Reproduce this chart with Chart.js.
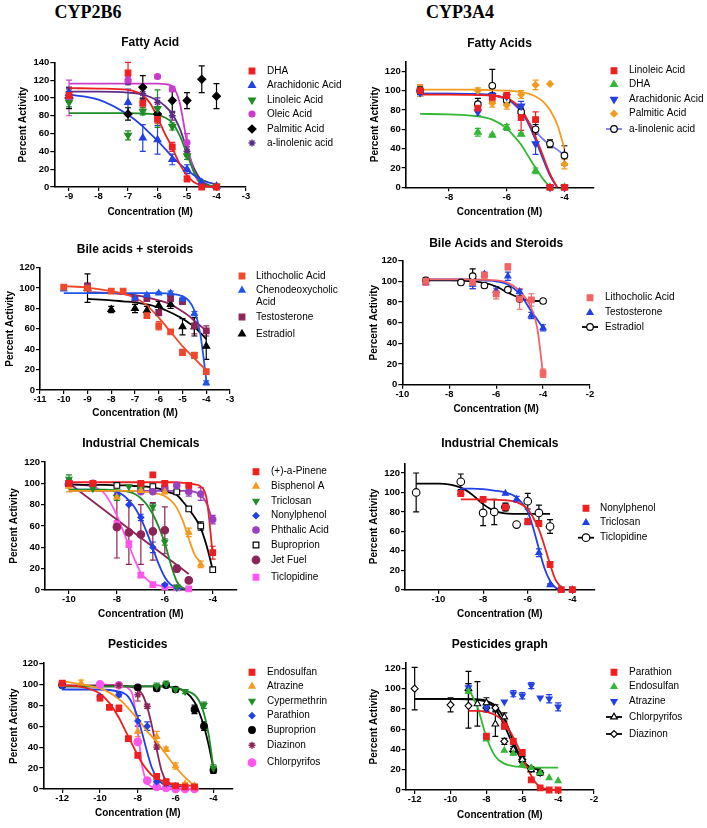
<!DOCTYPE html>
<html>
<head>
<meta charset="utf-8">
<script src="https://cdn.jsdelivr.net/npm/chart.js@4.4.1/dist/chart.umd.min.js"></script>
<style>
  html, body { margin: 0; padding: 0; background: #fff; }
  #wrap { position: relative; width: 707px; height: 828px; overflow: hidden; }
  .head { position: absolute; top: 2px; width: 200px; text-align: center; line-height: 20px;
          font: bold 18px 'Liberation Serif', 'Times New Roman', serif; color: #000; }
  canvas { position: absolute; }
</style>
</head>
<body>
<div id="wrap">
  <div class="head" style="left:-12px">CYP2B6</div>
  <div class="head" style="left:360px">CYP3A4</div>
</div>
<script>
/* ---------- CYP2B6 : fatty acids ---------- */
const b6FatConc = [-9, -7, -6.5, -6, -5.5, -5, -4.5, -4];
const b6FatFitX = [-9, -8, -7, -6.5, -6.25, -6, -5.75, -5.5, -5.25, -5, -4.75, -4.5, -4.25, -4];
const b6FatDHA = [103, 128, 94, 76, 45, 9, 0, 0];
const b6FatDHAErr = [8, 12, 5, 5, 5, 3, 1, 1];
const b6FatDHAFit = [111, 110.5, 109, 103, 94, 78, 60, 44, 26, 13, 5, 2, 0.5, 0];
const b6FatAra = [105, 95, 55, 53, 31, 20, 5, 1];
const b6FatAraErr = [6, 15, 15, 16, 6, 5, 2, 1];
const b6FatAraFit = [104, 98, 81, 68, 60, 52, 43, 34, 26, 19, 13, 8, 5, 3];
const b6FatLin = [95, 58, 85, 88, 68, 35, 5, 1];
const b6FatLinErr = [5, 5, 4, 21, 4, 4, 2, 1];
const b6FatLinFit = [83, 83, 83, 82.5, 82, 81, 78, 72, 58, 37, 16, 5, 1.5, 0];
const b6FatOle = [100, 120, null, 124, 110, 50, 3, 0];
const b6FatOleErr = [20, 4, 0, 2, 3, 10, 2, 1];
const b6FatOleFit = [116, 116, 116, 116, 116, 116, 115.5, 113, 95, 50, 15, 3, 1, 0];
const b6FatPal = [100, 82, 112, 82, 97, 97, 121, 102];
const b6FatPalErr = [12, 7, 13, 7, 13, 9, 15, 14];
const b6FatALin = [107, 118, 105, 95, 80, 40, 3, 0];
const b6FatALinErr = [5, 3, 5, 5, 5, 5, 1, 1];
const b6FatALinFit = [107, 107, 106, 104, 101, 97, 91, 82, 66, 42, 20, 7, 2, 0.5];

/* ---------- CYP3A4 : fatty acids ---------- */
const a4FatConc = [-9, -7, -6.5, -6, -5.5, -5, -4.5, -4];
const a4FatFitX = [-9, -8, -7, -6.5, -6, -5.75, -5.5, -5.25, -5, -4.75, -4.5, -4.25, -4];
const a4FatLin = [100, 82, 93, 95, 72, 70, 0, 0];
const a4FatLinErr = [6, 4, 4, 3, 13, 8, 1, 1];
const a4FatLinFit = [96, 96, 95.5, 95, 92, 88, 81, 68, 52, 33, 14, 0, null];
const a4FatDHA = [null, 57, 54, 62, 55, 17, 0, 0];
const a4FatDHAErr = [0, 4, 1, 3, 1, 3, 1, 1];
const a4FatDHAFit = [76, 75.5, 73.5, 70, 61, 53, 44, 32, 20, 9, 0, null, null];
const a4FatAra = [98, 78, 95, 94, 84, 45, 0, 0];
const a4FatAraErr = [4, 4, 3, 3, 5, 11, 1, 1];
const a4FatAraFit = [97, 97, 96.5, 95.5, 92, 87, 79, 66, 49, 30, 12, 0, null];
const a4FatPal = [100, 100, 87, 85, 96, 106, 107, 24];
const a4FatPalErr = [6, 3, 4, 4, 4, 5, 0, 5];
const a4FatPalFit = [101, 101, 101, 100.5, 100, 99.5, 98.5, 97, 94, 89, 80, 65, 40];
const a4FatALin = [100, 86, 105, 90, 78, 60, 45, 33];
const a4FatALinErr = [4, 6, 17, 3, 4, 5, 4, 10];
const a4FatALinFit = [97, 97, 96, 95, 91, 86, 78, 68, 58, 50, 44, 39, 33];

/* ---------- CYP2B6 : bile acids + steroids ---------- */
const b6BileConc = [-10, -9, -8, -7.5, -7, -6.5, -6, -5.5, -5, -4.5, -4];
const b6BileFitX = [-10, -9, -8, -7.5, -7, -6.5, -6, -5.5, -5, -4.75, -4.5, -4.25, -4];
const b6BileLitho = [101, 100, 97, 97, null, 73, 63, 57, 37, 34, 18];
const b6BileLithoErr = [2, 2, 2, 2, 0, 2, 4, 2, 3, 3, 2];
const b6BileLithoFit = [102, 100.5, 97, 94.5, 90.5, 83, 71, 57, 43, 37, 31, 25, 20];
const b6BileCheno = [99, 100, null, null, 90, 93, 95, 95, 89, 75, 7];
const b6BileChenoErr = [1, 1, 0, 0, 1, 1, 1, 2, 2, 2, 2];
const b6BileChenoFit = [95, 95, 95, 95, 95, 95, 95, 94.5, 92, 88, 78, 55, 10];
const b6BileTesto = [null, 102, null, null, 90, 90, 76, 90, 87, 63, 58];
const b6BileTestoErr = [0, 3, 0, 0, 2, 3, 3, 3, 3, 8, 5];
const b6BileTestoFit = [null, 96, 95, 94, 93, 91, 88, 84, 77, 73, 68, 63, 58];
const b6BileEstra = [null, 100, 79, null, 80, 78, 83, 84, 62, 62, 43];
const b6BileEstraErr = [0, 14, 3, 0, 4, 4, 4, 4, 8, 9, 13];
const b6BileEstraFit = [null, 89.5, 88, 87, 86, 84, 81, 76, 70, 66, 62, 56, 50];

/* ---------- CYP3A4 : bile acids and steroids ---------- */
const a4BileConc = [-9, -7.5, -7, -6.5, -6, -5.5, -5, -4.5, -4];
const a4BileFitX = [-9, -8, -7, -6.5, -6, -5.5, -5, -4.75, -4.5, -4.25, -4];
const a4BileLitho = [100, null, 99, 106, 88, 114, 83, 82, 11];
const a4BileLithoErr = [4, 0, 6, 3, 5, 3, 10, 6, 4];
const a4BileLithoFit = [102, 102, 102, 101.5, 101, 98.5, 91, 84, 74, 55, 10];
const a4BileTesto = [99, null, 97, 107, 91, 105, 90, 67, 55];
const a4BileTestoErr = [2, 0, 4, 1, 4, 4, 2, 3, 3];
const a4BileTestoFit = [102, 102, 102, 101, 100, 97, 88, 80, 71, 63, 55];
const a4BileEstra = [101, 99, 105, 96, null, 92, 83, null, 81];
const a4BileEstraErr = [0, 0, 7, 0, 0, 0, 0, 0, 0];
const a4BileEstraFit = [101, 101, 100, 98.5, 95, 89, 84, 82, 81, 81, 81];

/* ---------- CYP2B6 : industrial chemicals ---------- */
const b6IndConc = [-10, -9, -8, -7.5, -7, -6.5, -6, -5.5, -5, -4.5, -4];
const b6IndFitX = [-10, -9, -8.5, -8, -7.75, -7.5, -7.25, -7, -6.75, -6.5, -6.25, -6, -5.75, -5.5, -5.25, -5, -4.75, -4.5, -4.25, -4];
const b6IndPin = [100, 100, null, null, 100, 108, 100, null, 98, null, 35];
const b6IndPinErr = [2, 0, 0, 0, 0, 0, 2, 0, 2, 0, 6];
const b6IndPinFit = [101, 101, 101, 101, 101, 101, 101, 101, 101, 101, 101, 101, 101, 101, 100.5, 100, 99, 97, 85, 33];
const b6IndBPA = [97, null, 87, null, 93, null, 92, null, 54, 24, null];
const b6IndBPAErr = [5, 0, 3, 0, 2, 0, 2, 0, 4, 3, 0];
const b6IndBPAFit = [93, 93, 93, 93, 93, 93, 93, 92.5, 92, 91, 90, 88, 84, 77, 65, 48, 33, 26, null, null];
const b6IndTric = [104, 95, 87, 97, 95, 78, 45, 3, null, null, null];
const b6IndTricErr = [4, 0, 3, 0, 0, 3, 3, 1, 0, 0, 0];
const b6IndTricFit = [94, 94, 94, 93.5, 93, 92, 90, 86, 80, 71, 59, 44, 24, 8, 2, 0.5, null, null, null, null];
const b6IndNon = [99, null, 89, 80, 68, 40, 5, 2, null, null, null];
const b6IndNonErr = [2, 0, 3, 0, 3, 5, 1, 0, 0, 0, 0];
const b6IndNonFit = [94, 94, 93.5, 92, 89, 84, 77, 67, 54, 39, 24, 12, 5, 2, 1, null, null, null, null, null];
const b6IndPht = [101, 100, null, null, 92, 92, 95, 98, 92, 90, 66];
const b6IndPhtErr = [0, 0, 0, 0, 0, 0, 0, 0, 4, 6, 4];
const b6IndPhtFit = [93, 93, 93, 93, 93, 93, 93, 93, 93, 93, 93, 93, 93, 93, 93, 93, 92, 89, 81, 64];
const b6IndBup = [100, null, 98, null, 97, 97, 95, 92, 76, 60, 19];
const b6IndBupErr = [3, 0, 0, 0, 0, 0, 0, 0, 0, 4, 2];
const b6IndBupFit = [99, 98.5, 98.5, 98, 98, 98, 97.5, 97, 97, 96, 95, 93, 91, 89, 83, 76, 68, 58, 41, 19];
const b6IndJet = [99, null, 59, 54, 52, 55, 56, 20, 9, null, null];
const b6IndJetErr = [0, 0, 29, 30, 28, 27, 22, 3, 0, 0, 0];
const b6IndJetFit = [100, null, null, null, null, null, null, null, null, null, null, null, null, null, null, 15, null, null, null, null];
const b6IndTic = [100, null, 62, 43, 14, 5, 3, 2, 1, null, null];
const b6IndTicErr = [0, 0, 3, 3, 2, 1, 1, 0, 0, 0, 0];
const b6IndTicFit = [99, 97, 90, 70, 56, 42, 28, 16, 10, 6, 4, 3, 2.5, 2, 1.5, 1, null, null, null, null];

/* ---------- CYP3A4 : industrial chemicals ---------- */
const a4IndConc = [-11, -9, -8, -7.5, -7, -6.5, -6, -5.5, -5, -4.5, -4];
const a4IndFitX = [-11, -10, -9, -8.5, -8, -7.5, -7, -6.5, -6, -5.75, -5.5, -5.25, -5, -4.75, -4.5];
const a4IndNon = [null, 99, 93, null, 85, null, 70, 68, 26, 0, 0];
const a4IndNonErr = [0, 3, 0, 0, 3, 0, 0, 0, 3, 1, 1];
const a4IndNonFit = [null, null, 93, 93, 93, 92.5, 92, 90, 83, 74, 62, 45, 26, 10, 2];
const a4IndTric = [null, 100, null, null, 99, 93, 70, 38, 5, 0, 0];
const a4IndTricErr = [0, 2, 0, 0, 0, 3, 3, 4, 1, 1, 1];
const a4IndTricFit = [null, null, 104, 104, 103.5, 102, 100, 95, 80, 63, 42, 22, 9, 2, 0];
const a4IndTic = [100, 111, 79, 80, 85, 67, 91, 79, 65, null, null];
const a4IndTicErr = [20, 8, 13, 13, 4, 0, 8, 8, 7, 0, 0];
const a4IndTicFit = [109, 109, 105, 98, 88, 81, 78.5, 78, 78, 78, 78, 78, 78, null, null];

/* ---------- CYP2B6 : pesticides ---------- */
const b6PestConc = [-12, -11, -10, -9.5, -9, -8.5, -8, -7.5, -7, -6.5, -6, -5.5, -5, -4.5, -4];
const b6PestFitX = [-12, -11, -10, -9.5, -9, -8.75, -8.5, -8.25, -8, -7.75, -7.5, -7.25, -7, -6.75, -6.5, -6, -5.5, -5, -4.75, -4.5, -4.25, -4];
const b6PestEndo = [101, null, 87, 78, 77, 48, 32, null, 12, 7, 3, 2, 2, null, null];
const b6PestEndoErr = [2, 0, 3, 2, 3, 1, 1, 0, 1, 1, 1, 1, 1, 0, 0];
const b6PestEndoFit = [99, 97.5, 91, 82, 68, 59, 50, 41, 32, 24, 18, 13, 10, 8, 6.5, 4.5, 3.5, 3, null, null, null, null];
const b6PestAtra = [100, 101, null, null, null, null, 55, null, 50, 38, 22, 5, 3, null, null];
const b6PestAtraErr = [3, 3, 0, 0, 0, 0, 5, 0, 5, 2, 3, 1, 1, 0, 0];
const b6PestAtraFit = [103, 100, 96, 92, 86, 82, 77, 72, 67, 61, 55, 50, 45, 39, 33, 21, 11, 3, null, null, null, null];
const b6PestCyp = [null, null, null, null, null, null, null, null, 98, 100, 95, 93, null, 80, 20];
const b6PestCypErr = [0, 0, 0, 0, 0, 0, 0, 0, 3, 3, 2, 2, 0, 3, 3];
const b6PestCypFit = [98, 98, 98, 98, 98, 98, 98, 98, 98, 98, 98, 98, 98, 98, 97.5, 96.5, 94, 90, 84, 72, 52, 20];
const b6PestPara = [98, null, 88, null, 90, null, 65, 60, 7, null, null, null, null, null, null];
const b6PestParaErr = [0, 0, 2, 0, 2, 0, 5, 4, 1, 0, 0, 0, 0, 0, 0];
const b6PestParaFit = [95, 95, 95, 94.5, 93, 91.5, 88, 80, 68, 52, 35, 20, 11, 6, 3.5, 1.5, null, null, null, null, null, null];
const b6PestBup = [99, null, null, null, null, null, 97, null, 96, 99, 95, null, 76, 60, 18];
const b6PestBupErr = [2, 0, 0, 0, 0, 0, 1, 0, 2, 2, 1, 0, 4, 4, 3];
const b6PestBupFit = [98, 98, 98, 98, 98, 98, 98, 98, 98, 98, 98, 98, 98, 98, 97.5, 96.5, 93, 83, 73, 60, 42, 20];
const b6PestDiaz = [null, null, null, null, 99, null, 90, 79, 40, 5, 3, null, null, null, null];
const b6PestDiazErr = [0, 0, 0, 0, 1, 0, 6, 2, 2, 1, 1, 0, 0, 0, 0];
const b6PestDiazFit = [99, 99, 99, 99, 99, 98.5, 98, 97, 95, 90, 78, 60, 38, 18, 8, 3, 2, null, null, null, null, null];
const b6PestChlor = [100, null, 100, null, 99, null, 45, 8, 2, 1, 0, 0, 0, null, null];
const b6PestChlorErr = [1, 0, 1, 0, 1, 0, 3, 2, 1, 0, 0, 0, 0, 0, 0];
const b6PestChlorFit = [null, null, 100, 99.5, 99, 98, 96, 88, 55, 20, 6, 2, 1, 0.5, 0, 0, 0, 0, null, null, null, null];

/* ---------- CYP3A4 : pesticides ---------- */
const a4PestConc = [-12, -10, -9, -8.5, -8, -7.5, -7, -6.5, -6, -5.5, -5, -4.5, -4];
const a4PestFitX = [-12, -11, -10, -9, -8.5, -8, -7.5, -7, -6.75, -6.5, -6.25, -6, -5.75, -5.5, -5.25, -5, -4.5, -4];
const a4PestPara = [null, null, null, null, 53, null, 63, 48, 37, 10, 2, 0, 0];
const a4PestParaErr = [0, 0, 0, 0, 3, 0, 3, 3, 2, 1, 1, 1, 1];
const a4PestParaFit = [null, null, null, 78, 78, 77, 74, 67, 60, 52, 43, 33, 23, 14, 7, 3, 0.5, 0];
const a4PestEndo = [null, null, 97, null, 50, null, 39, 36, 25, 22, 17, 12, 9];
const a4PestEndoFit = [null, null, null, 100, 82, 52, 33, 26, 24.5, 23.5, 23, 22.5, 22, 22, 22, 22, 22, 22];
const a4PestAtra = [null, null, 101, null, 81, null, 87, 95, 93, 103, 91, 90, 82];
const a4PestAtraErr = [0, 0, 4, 0, 3, 0, 0, 3, 3, 3, 0, 4, 4];
const a4PestChlor = [null, null, 100, 85, 86, 65, 72, 40, 30, 20, 17, null, null];
const a4PestChlorErr = [0, 0, 17, 22, 5, 12, 4, 3, 3, 2, 2, 0, 0];
const a4PestChlorFit = [90, 90, 90, 90, 89.5, 88, 83, 70, 60, 48, 38, 30, 25, 22, 21, 20, null, null];
const a4PestDiaz = [100, 84, 83, null, 81, 81, 48, 38, 30, 21, 17, null, null];
const a4PestDiazErr = [21, 7, 22, 0, 4, 3, 3, 3, 3, 2, 2, 0, 0];
const a4PestDiazFit = [90, 90, 90, 89.5, 89, 87, 80, 64, 54, 44, 36, 29, 24, 21.5, 20.5, 20, null, null];

/* tick labels */
const ticksY120 = [0, 20, 40, 60, 80, 100, 120];
const ticksY140 = [0, 20, 40, 60, 80, 100, 120, 140];
const ticksX1 = [-9, -8, -7, -6, -5, -4, -3];
const ticksX2 = [-8, -6, -4];
const ticksX3 = [-11, -10, -9, -8, -7, -6, -5, -4, -3];
const ticksX4 = [-10, -8, -6, -4, -2];
const ticksX5 = [-10, -8, -6, -4];
const ticksX7 = [-12, -10, -8, -6, -4];
const ticksX8 = [-12, -10, -8, -6, -4, -2];

const FONT = "'Liberation Sans', Arial, Helvetica, sans-serif";
Chart.defaults.font.family = FONT;

const errorBars = {
  id: 'errorBars',
  beforeDatasetsDraw(chart) {
    const ctx = chart.ctx, ys = chart.scales.y;
    chart.data.datasets.forEach((ds, di) => {
      if (!ds.errs) return;
      const meta = chart.getDatasetMeta(di);
      ctx.save();
      ctx.strokeStyle = ds.pointBorderColor;
      ctx.lineWidth = 1.2;
      meta.data.forEach((el, i) => {
        const e = ds.errs[i];
        if (!e) return;
        const v = ds.data[i].y;
        const y1 = ys.getPixelForValue(v + e), y2 = ys.getPixelForValue(Math.max(v - e, 0));
        ctx.beginPath();
        ctx.moveTo(el.x, y1); ctx.lineTo(el.x, y2);
        ctx.moveTo(el.x - 3, y1); ctx.lineTo(el.x + 3, y1);
        ctx.moveTo(el.x - 3, y2); ctx.lineTo(el.x + 3, y2);
        ctx.stroke();
      });
      ctx.restore();
    });
  }
};

function legendPlugin(p) {
  return {
    id: 'sideLegend',
    afterDraw(chart) {
      const ctx = chart.ctx;
      const cx = p.box[0], cy = p.box[1];
      ctx.save();
      ctx.font = '10px ' + FONT;
      ctx.textBaseline = 'middle';
      p.series.forEach((s, i) => {
        const mx = p.legendX - cx, my = p.legendRows[i] - cy;
        if (s.legendLine) {
          ctx.strokeStyle = s.line || s.color;
          ctx.lineWidth = 1.8;
          ctx.beginPath(); ctx.moveTo(mx - 8, my); ctx.lineTo(mx + 8, my); ctx.stroke();
        }
        ctx.fillStyle = s.fill || s.color;
        ctx.strokeStyle = s.edge || s.color;
        ctx.lineWidth = s.style === 'star' ? 1.4 : 1.2;
        Chart.helpers.drawPoint(ctx, { pointStyle: s.style, rotation: s.rot || 0, radius: s.r || 4, borderWidth: 1 }, mx, my);
        ctx.fillStyle = '#000';
        [].concat(s.name).forEach((t, k) => ctx.fillText(t, p.textX - cx, my + k * 12));
      });
      ctx.restore();
    }
  };
}

function buildPanel(p) {
  const [cx, cy, cw, ch] = p.box;
  const [L, R, T, B] = p.area;
  const cv = document.createElement('canvas');
  cv.width = cw; cv.height = ch;
  cv.style.left = cx + 'px'; cv.style.top = cy + 'px';
  document.getElementById('wrap').appendChild(cv);

  const datasets = [];
  p.series.forEach(s => {
    if (!s.fit) return;
    const pts = [];
    p.fitX.forEach((x, i) => { if (s.fit[i] != null) pts.push({ x, y: s.fit[i] }); });
    datasets.push({
      type: 'line', data: pts, borderColor: s.line || s.color, borderWidth: 1.8,
      pointRadius: 0, fill: false, cubicInterpolationMode: 'monotone', order: 2, clip: false
    });
  });
  p.series.forEach(s => {
    const pts = [], errs = [];
    p.conc.forEach((x, i) => {
      if (s.pts[i] != null) { pts.push({ x, y: s.pts[i] }); errs.push(s.err ? s.err[i] : 0); }
    });
    datasets.push({
      type: 'scatter', data: pts, errs, order: 1, clip: false,
      pointStyle: s.style, pointRotation: s.rot || 0, pointRadius: s.r || 4,
      pointBackgroundColor: s.fill || s.color, pointBorderColor: s.edge || s.color,
      pointBorderWidth: s.style === 'star' ? 1.4 : 1.1
    });
  });

  const axisTitle = { size: 10, weight: 'bold' };
  new Chart(cv, {
    type: 'scatter',
    data: { datasets },
    options: {
      responsive: false, animation: false, events: [],
      layout: { padding: { left: 0, top: 0, bottom: 0, right: cw - (R - cx) } },
      plugins: {
        legend: { display: false },
        tooltip: { enabled: false },
        title: {
          display: true, text: p.title, color: '#000', fullSize: false,
          font: { size: 12, weight: 'bold' },
          padding: { top: p.titleY - cy - 7.2, bottom: T - p.titleY - 7.2 }
        }
      },
      scales: {
        x: {
          type: 'linear', min: p.xMin, max: p.xMax,
          afterBuildTicks: sc => { sc.ticks = p.xTicks.map(v => ({ value: v })); },
          afterFit: sc => { sc.height = ch - (B - cy); sc.paddingLeft = 0; sc.paddingRight = 0; },
          grid: { drawOnChartArea: false, color: '#000', lineWidth: 1.2, tickLength: 4 },
          border: { color: '#000', width: 1.6 },
          ticks: { color: '#000', font: { size: 9.5, weight: 'bold' }, padding: 0, maxRotation: 0, autoSkip: false },
          title: {
            display: true, text: 'Concentration (M)', color: '#000', font: axisTitle,
            padding: { top: 0, bottom: Math.max(ch - (p.xTitleY - cy) - 6, 0) }
          }
        },
        y: {
          type: 'linear', min: 0, max: p.yMax,
          afterBuildTicks: sc => { sc.ticks = p.yTicks.map(v => ({ value: v })); },
          afterFit: sc => { sc.width = L - cx; sc.paddingTop = 0; sc.paddingBottom = 0; },
          grid: { drawOnChartArea: false, color: '#000', lineWidth: 1.2, tickLength: 4 },
          border: { color: '#000', width: 1.6 },
          ticks: { color: '#000', font: { size: 9.5, weight: 'bold' }, padding: 1, autoSkip: false },
          title: {
            display: true, text: 'Percent Activity', color: '#000', font: axisTitle,
            padding: { top: p.yTitleX - cx - 6, bottom: 0 }
          }
        }
      }
    },
    plugins: [errorBars, legendPlugin(p)]
  });
}

const RED = '#ee1f1f', BLUE = '#2140e6', GREEN = '#1f8c26', LGREEN = '#33b835', MAGENTA = '#cc3ccc';
const PURPLE = '#5c2d86', ORANGE = '#f39a1f', LAVENDER = '#7a7ae6', MAROON = '#8c2458';
const SALMON = '#f26464', PHTH = '#9b3fbf', PINK = '#ff55ee', BLACK = '#000';

const panels = [
  {
    title: 'Fatty Acid', box: [0, 26, 354, 200], area: [54.3, 246, 62.3, 187],
    titleY: 42.3, xTitleY: 212, yTitleX: 23.3,
    xMin: -9.5, xMax: -3, xTicks: ticksX1, yMax: 140, yTicks: ticksY140,
    conc: b6FatConc, fitX: b6FatFitX,
    legendX: 252, textX: 267, legendRows: [71, 85.5, 100, 114, 129, 143],
    series: [
      { name: 'DHA', color: RED, style: 'rect', pts: b6FatDHA, err: b6FatDHAErr, fit: b6FatDHAFit },
      { name: 'Arachidonic Acid', color: BLUE, style: 'triangle', pts: b6FatAra, err: b6FatAraErr, fit: b6FatAraFit },
      { name: 'Linoleic Acid', color: GREEN, style: 'triangle', rot: 180, pts: b6FatLin, err: b6FatLinErr, fit: b6FatLinFit },
      { name: 'Oleic Acid', color: MAGENTA, style: 'circle', r: 3, pts: b6FatOle, err: b6FatOleErr, fit: b6FatOleFit },
      { name: 'Palmitic Acid', color: BLACK, style: 'rectRot', pts: b6FatPal, err: b6FatPalErr },
      { name: 'a-linolenic acid', color: PURPLE, style: 'star', r: 3.5, pts: b6FatALin, err: b6FatALinErr, fit: b6FatALinFit }
    ]
  },
  {
    title: 'Fatty Acids', box: [354, 26, 353, 200], area: [405.7, 593.3, 61.7, 187.3],
    titleY: 43.3, xTitleY: 212, yTitleX: 375.7,
    xMin: -9.5, xMax: -3, xTicks: ticksX2, yMax: 130, yTicks: ticksY120,
    conc: a4FatConc, fitX: a4FatFitX,
    legendX: 614, textX: 629, legendRows: [70.7, 84.5, 99.3, 113.7, 129],
    series: [
      { name: 'Linoleic Acid', color: RED, style: 'rect', pts: a4FatLin, err: a4FatLinErr, fit: a4FatLinFit },
      { name: 'DHA', color: LGREEN, style: 'triangle', pts: a4FatDHA, err: a4FatDHAErr, fit: a4FatDHAFit },
      { name: 'Arachidonic Acid', color: BLUE, style: 'triangle', rot: 180, pts: a4FatAra, err: a4FatAraErr, fit: a4FatAraFit },
      { name: 'Palmitic Acid', color: ORANGE, style: 'rectRot', r: 3.3, pts: a4FatPal, err: a4FatPalErr, fit: a4FatPalFit },
      { name: 'a-linolenic acid', color: BLACK, fill: '#fff', style: 'circle', r: 3.3, line: LAVENDER, legendLine: true,
        pts: a4FatALin, err: a4FatALinErr, fit: a4FatALinFit }
    ]
  },
  {
    title: 'Bile acids + steroids', box: [0, 218, 354, 206], area: [40, 230, 267.7, 390],
    titleY: 249.3, xTitleY: 413, yTitleX: 10,
    xMin: -11, xMax: -3, xTicks: ticksX3, yMax: 120, yTicks: ticksY120,
    conc: b6BileConc, fitX: b6BileFitX,
    legendX: 242, textX: 256, legendRows: [276, 290.3, 317, 334],
    series: [
      { name: 'Lithocholic Acid', color: '#f0482a', style: 'rect', pts: b6BileLitho, err: b6BileLithoErr, fit: b6BileLithoFit },
      { name: ['Chenodeoxycholic', 'Acid'], color: '#1f55ee', style: 'triangle', r: 3.5, pts: b6BileCheno, err: b6BileChenoErr, fit: b6BileChenoFit },
      { name: 'Testosterone', color: MAROON, style: 'rect', pts: b6BileTesto, err: b6BileTestoErr, fit: b6BileTestoFit },
      { name: 'Estradiol', color: BLACK, style: 'triangle', pts: b6BileEstra, err: b6BileEstraErr, fit: b6BileEstraFit }
    ]
  },
  {
    title: 'Bile Acids and Steroids', box: [354, 218, 353, 206], area: [402.3, 590, 260.7, 384.7],
    titleY: 243.3, xTitleY: 409, yTitleX: 374.7,
    xMin: -10, xMax: -2, xTicks: ticksX4, yMax: 120, yTicks: ticksY120,
    conc: a4BileConc, fitX: a4BileFitX,
    legendX: 590, textX: 605, legendRows: [297.7, 312.7, 327],
    series: [
      { name: 'Lithocholic Acid', color: SALMON, style: 'rect', pts: a4BileLitho, err: a4BileLithoErr, fit: a4BileLithoFit },
      { name: 'Testosterone', color: BLUE, style: 'triangle', r: 3.5, pts: a4BileTesto, err: a4BileTestoErr, fit: a4BileTestoFit },
      { name: 'Estradiol', color: BLACK, fill: '#fff', style: 'circle', r: 3.3, legendLine: true,
        pts: a4BileEstra, err: a4BileEstraErr, fit: a4BileEstraFit }
    ]
  },
  {
    title: 'Industrial Chemicals', box: [0, 416, 354, 210], area: [45, 236.7, 462, 590],
    titleY: 443.3, xTitleY: 614.3, yTitleX: 14,
    xMin: -11, xMax: -3, xTicks: ticksX5, yMax: 120, yTicks: ticksY120,
    conc: b6IndConc, fitX: b6IndFitX,
    legendX: 256, textX: 271, legendRows: [471.7, 486.3, 501, 515.7, 530, 545, 560, 577.3],
    series: [
      { name: '(+)-a-Pinene', color: RED, style: 'rect', pts: b6IndPin, err: b6IndPinErr, fit: b6IndPinFit },
      { name: 'Bisphenol A', color: ORANGE, style: 'triangle', r: 3.5, pts: b6IndBPA, err: b6IndBPAErr, fit: b6IndBPAFit },
      { name: 'Triclosan', color: GREEN, style: 'triangle', rot: 180, r: 3.5, pts: b6IndTric, err: b6IndTricErr, fit: b6IndTricFit },
      { name: 'Nonylphenol', color: BLUE, style: 'rectRot', r: 3, pts: b6IndNon, err: b6IndNonErr, fit: b6IndNonFit },
      { name: 'Phthalic Acid', color: PHTH, style: 'circle', r: 3.2, pts: b6IndPht, err: b6IndPhtErr, fit: b6IndPhtFit },
      { name: 'Buproprion', color: BLACK, fill: '#fff', style: 'rect', pts: b6IndBup, err: b6IndBupErr, fit: b6IndBupFit },
      { name: 'Jet Fuel', color: MAROON, style: 'circle', r: 3.8, pts: b6IndJet, err: b6IndJetErr, fit: b6IndJetFit },
      { name: 'Ticlopidine', color: PINK, style: 'rect', pts: b6IndTic, err: b6IndTicErr, fit: b6IndTicFit }
    ]
  },
  {
    title: 'Industrial Chemicals', box: [354, 416, 353, 210], area: [405, 594.7, 463.3, 589.7],
    titleY: 444, xTitleY: 614, yTitleX: 374.7,
    xMin: -11.5, xMax: -3, xTicks: ticksX5, yMax: 130, yTicks: ticksY120,
    conc: a4IndConc, fitX: a4IndFitX,
    legendX: 586, textX: 600, legendRows: [508.3, 522.7, 537.7],
    series: [
      { name: 'Nonylphenol', color: RED, style: 'rect', pts: a4IndNon, err: a4IndNonErr, fit: a4IndNonFit },
      { name: 'Triclosan', color: BLUE, style: 'triangle', r: 3.5, pts: a4IndTric, err: a4IndTricErr, fit: a4IndTricFit },
      { name: 'Ticlopidine', color: BLACK, fill: '#fff', style: 'circle', r: 3.8, legendLine: true,
        pts: a4IndTic, err: a4IndTicErr, fit: a4IndTicFit }
    ]
  },
  {
    title: 'Pesticides', box: [0, 618, 354, 210], area: [43.3, 232.3, 663.3, 789],
    titleY: 644.3, xTitleY: 813.3, yTitleX: 14,
    xMin: -13, xMax: -3, xTicks: ticksX7, yMax: 120, yTicks: ticksY120,
    conc: b6PestConc, fitX: b6PestFitX,
    legendX: 252, textX: 267, legendRows: [672.3, 686.3, 701, 715.7, 730, 745.3, 762.7],
    series: [
      { name: 'Endosulfan', color: RED, style: 'rect', pts: b6PestEndo, err: b6PestEndoErr, fit: b6PestEndoFit },
      { name: 'Atrazine', color: ORANGE, style: 'triangle', r: 3.5, pts: b6PestAtra, err: b6PestAtraErr, fit: b6PestAtraFit },
      { name: 'Cypermethrin', color: GREEN, style: 'triangle', rot: 180, r: 3.5, pts: b6PestCyp, err: b6PestCypErr, fit: b6PestCypFit },
      { name: 'Parathion', color: BLUE, style: 'rectRot', r: 3, pts: b6PestPara, err: b6PestParaErr, fit: b6PestParaFit },
      { name: 'Buproprion', color: BLACK, style: 'circle', r: 3.3, pts: b6PestBup, err: b6PestBupErr, fit: b6PestBupFit },
      { name: 'Diazinon', color: MAROON, style: 'star', r: 3.5, pts: b6PestDiaz, err: b6PestDiazErr, fit: b6PestDiazFit },
      { name: 'Chlorpyrifos', color: PINK, style: 'circle', r: 3.8, pts: b6PestChlor, err: b6PestChlorErr, fit: b6PestChlorFit }
    ]
  },
  {
    title: 'Pesticides graph', box: [354, 618, 353, 210], area: [405.7, 594, 663.3, 790],
    titleY: 645, xTitleY: 815, yTitleX: 374.7,
    xMin: -12.5, xMax: -2, xTicks: ticksX8, yMax: 125, yTicks: ticksY120,
    conc: a4PestConc, fitX: a4PestFitX,
    legendX: 614, textX: 629, legendRows: [672.3, 686.7, 701.3, 717, 734],
    series: [
      { name: 'Parathion', color: RED, style: 'rect', pts: a4PestPara, err: a4PestParaErr, fit: a4PestParaFit },
      { name: 'Endosulfan', color: LGREEN, style: 'triangle', r: 3.5, pts: a4PestEndo, fit: a4PestEndoFit },
      { name: 'Atrazine', color: BLUE, style: 'triangle', rot: 180, r: 3.5, pts: a4PestAtra, err: a4PestAtraErr },
      { name: 'Chlorpyrifos', color: BLACK, fill: '#fff', style: 'triangle', r: 3.8, legendLine: true,
        pts: a4PestChlor, err: a4PestChlorErr, fit: a4PestChlorFit },
      { name: 'Diazinon', color: BLACK, fill: '#fff', style: 'rectRot', r: 3.5, legendLine: true,
        pts: a4PestDiaz, err: a4PestDiazErr, fit: a4PestDiazFit }
    ]
  }
];

panels.forEach(buildPanel);
</script>
</body>
</html>
